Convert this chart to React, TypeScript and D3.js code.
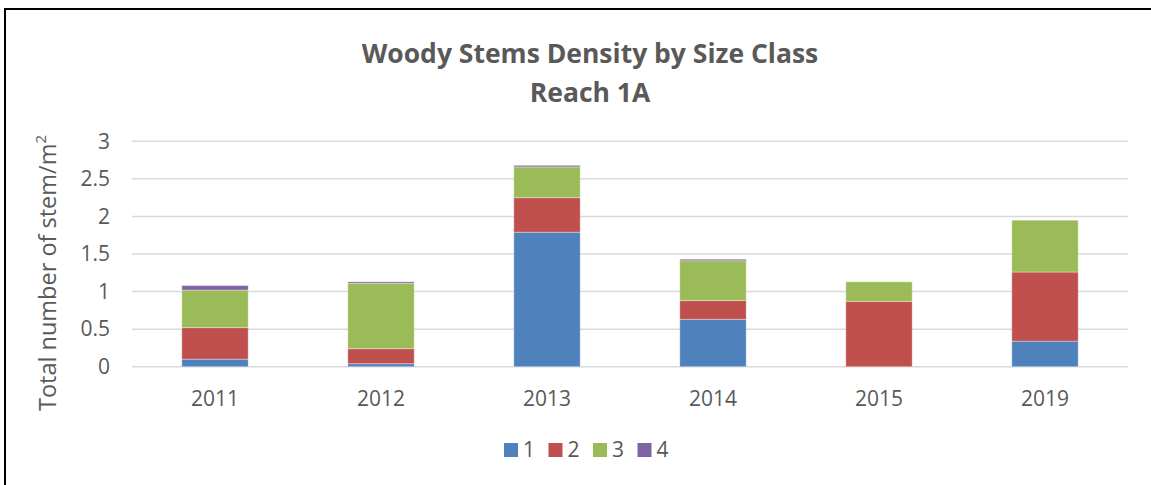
import React from "react";
import * as d3 from "d3";

const years = ["2011", "2012", "2013", "2014", "2015", "2019"];
const sizeClasses = ["1", "2", "3", "4"];
const class1 = [0.1, 0.04, 1.79, 0.63, 0, 0.34];
const class2 = [0.42, 0.2, 0.46, 0.25, 0.87, 0.92];
const class3 = [0.5, 0.87, 0.41, 0.53, 0.26, 0.69];
const class4 = [0.06, 0.02, 0.02, 0.02, 0, 0];
const yTicks = [0, 0.5, 1, 1.5, 2, 2.5, 3];
const colors = ["#4F81BD", "#C0504D", "#9BBB59", "#8064A2"];

const W = 1151;
const H = 485;
const font = "'Open Sans', Lato, sans-serif";
const textColor = "#595959";

export default function App() {
  const rows = years.map((yr, i) => ({
    year: yr,
    "1": class1[i],
    "2": class2[i],
    "3": class3[i],
    "4": class4[i],
  }));
  const series = d3.stack<any>().keys(sizeClasses)(rows);

  const x = d3.scaleBand().domain(years).range([132, 1128]).padding(0);
  const y = d3.scaleLinear().domain([0, 3]).range([366.7, 141.3]);
  const barW = x.bandwidth() * 0.4;

  return (
    <svg
      width={W}
      height={H}
      style={{ position: "absolute", left: 0, top: 0, background: "#fff" }}
    >
      <rect x={5} y={9} width={1200} height={520} fill="#fff" stroke="#000" strokeWidth={2} />

      <text x={590} y={63} textAnchor="middle" fontFamily={font} fontWeight="bold" fontSize={26.5} fill={textColor}>
        Woody Stems Density by Size Class
      </text>
      <text x={590} y={102} textAnchor="middle" fontFamily={font} fontWeight="bold" fontSize={26.5} fill={textColor}>
        Reach 1A
      </text>

      {yTicks.map((t) => (
        <g key={t}>
          <line x1={132} x2={1128} y1={y(t)} y2={y(t)} stroke="#d9d9d9" strokeWidth={1.5} />
          <text x={110} y={y(t)} dy="0.35em" textAnchor="end" fontFamily={font} fontSize={21} fill={textColor}>
            {t}
          </text>
        </g>
      ))}

      {series.map((s, si) => (
        <g key={s.key} fill={colors[si]}>
          {s.map((d, i) => {
            const h = y(d[0]) - y(d[1]);
            if (h <= 0) return null;
            return (
              <rect
                key={i}
                x={(x(years[i]) as number) + (x.bandwidth() - barW) / 2}
                y={y(d[1])}
                width={barW}
                height={h}
                stroke="rgba(255,255,255,0.35)"
                strokeWidth={1}
              />
            );
          })}
        </g>
      ))}

      {years.map((yr) => (
        <text
          key={yr}
          x={(x(yr) as number) + x.bandwidth() / 2}
          y={406}
          textAnchor="middle"
          fontFamily={font}
          fontSize={21}
          fill={textColor}
        >
          {yr}
        </text>
      ))}

      <text
        transform="translate(56,273) rotate(-90)"
        textAnchor="middle"
        fontFamily={font}
        fontSize={23.5}
        fill={textColor}
      >
        Total number of stem/m<tspan dy={-10} fontSize={15}>2</tspan>
      </text>

      {sizeClasses.map((c, i) => (
        <g key={c} transform={`translate(${504 + i * 44.5},443)`}>
          <rect width={14} height={14} fill={colors[i]} />
          <text x={19} y={7} dy="0.35em" fontFamily={font} fontSize={21} fill={textColor}>
            {c}
          </text>
        </g>
      ))}
    </svg>
  );
}
